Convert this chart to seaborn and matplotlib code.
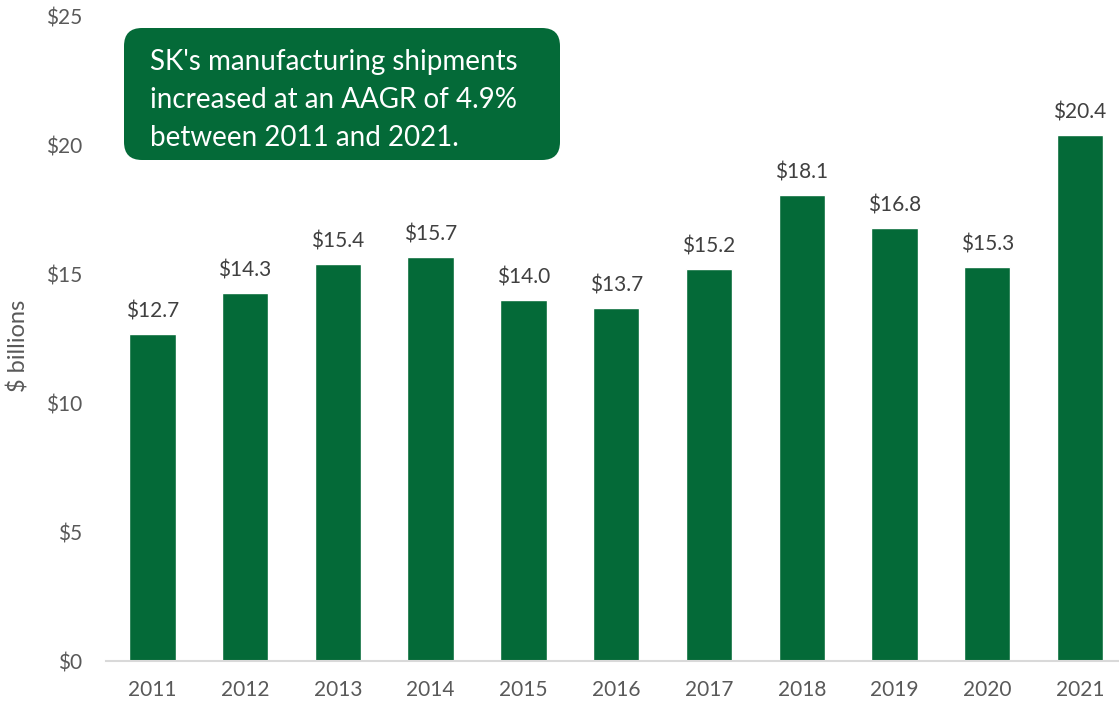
import matplotlib
matplotlib.use("Agg")
import matplotlib.pyplot as plt
import seaborn as sns
from matplotlib.patches import FancyBboxPatch
from matplotlib.transforms import IdentityTransform

# Data
years = ["2011", "2012", "2013", "2014", "2015", "2016",
         "2017", "2018", "2019", "2020", "2021"]
shipments = [12.7, 14.3, 15.4, 15.7, 14.0, 13.7, 15.2, 18.1, 16.8, 15.3, 20.4]
y_ticks = [0, 5, 10, 15, 20, 25]
note = ("SK's manufacturing shipments\n"
        "increased at an AAGR of 4.9%\n"
        "between 2011 and 2021.")

GREEN = "#046A38"
GRAY = "#595959"

sns.set_style("white")
plt.rcParams['font.family'] = ['Lato', 'DejaVu Sans']

fig = plt.figure(figsize=(11.19, 7.07), dpi=100)
ax = fig.add_axes([0.0947, 0.065, 0.9053, 0.911])

sns.barplot(x=years, y=shipments, color=GREEN, saturation=1, width=0.5, ax=ax)

# value labels on bars
for i, v in enumerate(shipments):
    ax.annotate(f"${v:.1f}", (i, v), xytext=(0, 9), textcoords="offset points",
                ha="center", va="bottom", fontsize=15, color="#404040")

ax.set_ylim(0, 25)
ax.set_xlim(-0.5, 10.42)
ax.set_yticks(y_ticks)
ax.set_yticklabels([f"${t}" for t in y_ticks])
ax.tick_params(axis="y", length=0, pad=17, labelsize=15, labelcolor=GRAY)
ax.tick_params(axis="x", length=0, pad=14, labelsize=15, labelcolor=GRAY)

ax.set_ylabel("$ billions", fontsize=17, color=GRAY)
ax.yaxis.set_label_coords(-0.075, 0.49)
ax.set_xlabel("")

for side in ["top", "right", "left"]:
    ax.spines[side].set_visible(False)
ax.spines["bottom"].set_color("#D9D9D9")
ax.spines["bottom"].set_linewidth(1.5)

# annotation box (pixel coords)
box = FancyBboxPatch((124, 707 - 160), 436, 132,
                     boxstyle="round,pad=0,rounding_size=18",
                     facecolor=GREEN, edgecolor="none",
                     transform=IdentityTransform())
fig.add_artist(box)
fig.text(150 / 1119, 1 - 100 / 707, note, ha="left", va="center",
         fontsize=20, color="white", linespacing=1.55)

fig.savefig("out.png", dpi=100)
